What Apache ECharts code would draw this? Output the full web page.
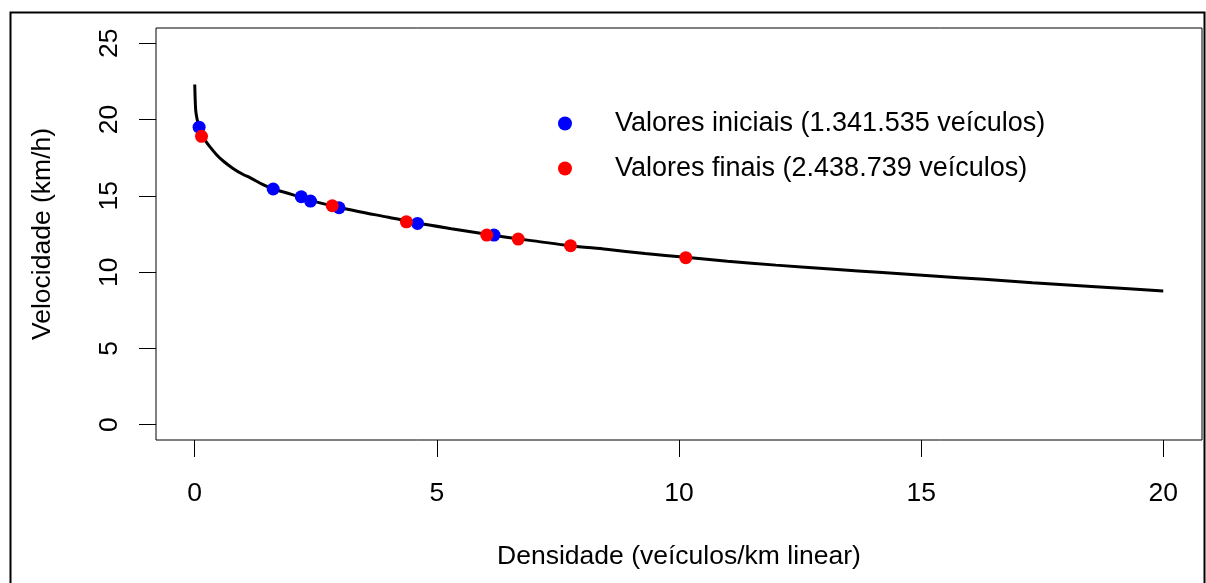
<!DOCTYPE html>
<html>
<head>
<meta charset="utf-8">
<script src="https://cdn.jsdelivr.net/npm/echarts@6/dist/echarts.min.js"></script>
<style>
html,body{margin:0;padding:0;background:#fff;}
#chart{width:1206px;height:583px;}
</style>
</head>
<body>
<div id="chart"></div>
<script>
// Curve: [density, speed]
const curveDensity = [0, 0.02, 0.05, 0.09, 0.14, 0.2, 0.28, 0.45, 0.6, 0.79, 1.0, 1.14, 1.4, 1.62, 2.0, 2.4, 2.9, 3.4, 4.0, 4.6, 5.3, 6.1, 6.7, 7.0, 7.76, 8.5, 9.3, 10.14, 11, 12, 13.2, 14.2, 15.25, 16.3, 17.3, 18.6, 20];
const curveSpeed   = [22.3, 20.6, 20.0, 19.5, 19.0, 18.7, 18.35, 17.7, 17.25, 16.8, 16.4, 16.2, 15.75, 15.45, 15.1, 14.7, 14.3, 13.96, 13.6, 13.22, 12.85, 12.45, 12.17, 12.05, 11.73, 11.5, 11.22, 10.97, 10.72, 10.46, 10.19, 9.97, 9.75, 9.53, 9.31, 9.05, 8.77];

// Valores iniciais (blue)
const iniDensity = [0.09, 1.62, 2.2, 2.39, 2.98, 4.6, 6.18];
const iniSpeed   = [19.5, 15.45, 14.94, 14.66, 14.22, 13.19, 12.43];

// Valores finais (red)
const finDensity = [0.14, 2.84, 4.37, 6.03, 6.68, 7.76, 10.14];
const finSpeed   = [18.9, 14.35, 13.3, 12.43, 12.17, 11.73, 10.95];

const xTicks = [0, 5, 10, 15, 20];
const yTicks = [0, 5, 10, 15, 20, 25];

const seriesNames = ['Valores iniciais (1.341.535 veículos)', 'Valores finais (2.438.739 veículos)'];
const xTitle = 'Densidade (veículos/km linear)';
const yTitle = 'Velocidade (km/h)';

const zip = (a, b) => a.map((v, i) => [v, b[i]]);
const FONT = '"Liberation Sans", Arial, sans-serif';

const chart = echarts.init(document.getElementById('chart'), null, {renderer: 'canvas'});
chart.setOption({
  backgroundColor: '#fff',
  animation: false,
  textStyle: {fontFamily: FONT, color: '#000'},
  grid: {left: 156, right: 4, top: 28, bottom: 143, show: true, borderColor: '#000', borderWidth: 1, backgroundColor: 'transparent'},
  graphic: [{
    type: 'rect', left: 8, top: 10, silent: true,
    shape: {x: 0, y: 0, width: 1194, height: 600},
    style: {fill: 'none', stroke: '#000', lineWidth: 2}
  }],
  legend: {
    orient: 'vertical', left: 553, top: 105,
    itemWidth: 14, itemHeight: 14, itemGap: 18,
    icon: 'circle',
    data: seriesNames,
    textStyle: {fontFamily: FONT, fontSize: 27, color: '#000', padding: [4, 0, 0, 38]}
  },
  xAxis: {
    type: 'value', min: -0.8, max: 20.8, position: 'bottom',
    axisLine: {show: false, onZero: false},
    axisTick: {show: true, inside: false, length: 17, lineStyle: {color: '#000', width: 1}, customValues: xTicks},
    axisLabel: {customValues: xTicks, margin: 40, fontSize: 26.5, color: '#000', fontFamily: FONT},
    splitLine: {show: false},
    name: xTitle, nameLocation: 'middle', nameGap: 103,
    nameTextStyle: {fontSize: 26.5, color: '#000', fontFamily: FONT}
  },
  yAxis: {
    type: 'value', min: -1, max: 26, position: 'left',
    axisLine: {show: false, onZero: false},
    axisTick: {show: true, inside: false, length: 17, lineStyle: {color: '#000', width: 1}, customValues: yTicks},
    axisLabel: {customValues: yTicks, margin: 33, rotate: 90, fontSize: 26.5, color: '#000', fontFamily: FONT},
    splitLine: {show: false},
    name: yTitle, nameLocation: 'middle', nameGap: 100,
    nameTextStyle: {fontSize: 26.5, color: '#000', fontFamily: FONT}
  },
  series: [
    {
      type: 'line', name: 'curve', data: zip(curveDensity, curveSpeed),
      showSymbol: false, smooth: 0.3, lineStyle: {color: '#000', width: 3}, z: 1
    },
    {
      type: 'scatter', name: seriesNames[0], data: zip(iniDensity, iniSpeed),
      symbol: 'circle', symbolSize: 13, itemStyle: {color: '#0000ff', opacity: 1}, z: 3
    },
    {
      type: 'scatter', name: seriesNames[1], data: zip(finDensity, finSpeed),
      symbol: 'circle', symbolSize: 13, itemStyle: {color: '#ff0000', opacity: 1}, z: 4
    }
  ]
});
</script>
</body>
</html>
